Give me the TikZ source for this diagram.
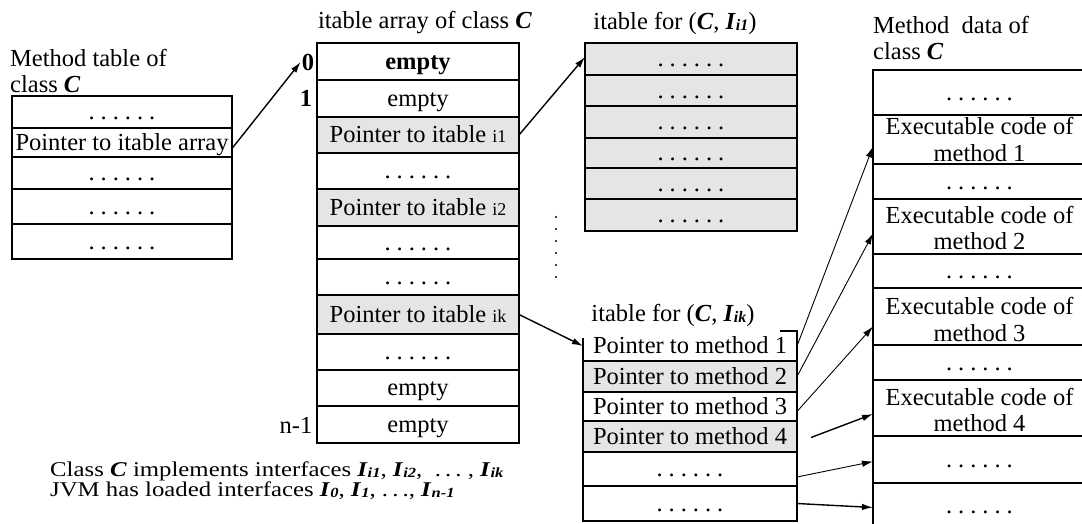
\documentclass[tikz,border=0pt]{standalone}
\usepackage{fontspec}
\usepackage{graphicx}
\setmainfont{Liberation Serif}
\usetikzlibrary{arrows.meta}
\definecolor{cellgray}{gray}{0.90}
\newcommand\bigfont{\fontsize{24.5}{26}\selectfont}
\newcommand\notefont{\fontsize{21}{19}\selectfont}
\newcommand\sfx[1]{{\fontsize{18}{18}\selectfont #1}}
\newcommand\Iface[2][16]{{\bfseries\itshape I\kern0.03em\raisebox{-0.12ex}{\fontsize{#1}{#1}\selectfont #2}}}
\newcommand\Cls{\textbf{\textit{C}}}
\newcommand\rowdots{.\hspace{6pt}.\hspace{6pt}.\hspace{6pt}.\hspace{6pt}.\hspace{6pt}.}
% one table row: [style]{name}{x1}{y1}{x2}{y2}{text}
\newcommand\tabrow[7][]{\node[cell,#1,minimum width={#5-#3},minimum height={#6-#4}] (#2) at ({(#3+#5)/2},{(#4+#6)/2}) {#7};}
\tikzset{
  cell/.style={draw, line width=1.1pt, fill=white, inner sep=0pt, outer sep=0pt,
    font=\bigfont, text height=17pt, text depth=2pt},
  graycell/.style={fill=cellgray},
  title/.style={font=\bigfont, inner sep=0pt},
  conn/.style={-{Latex[length=11pt,width=6.5pt]}, line width=1.4pt},
  thinconn/.style={-{Latex[length=11pt,width=6.5pt]}, line width=0.9pt},
}
\begin{document}
\begin{tikzpicture}[x=1pt,y=-1pt]
\useasboundingbox (0,0) rectangle (1082,523);

% ---- method table of class C
\node[title, anchor=west, align=left] (mtTitle) at (10,71) {Method table of\\class \Cls};
\tabrow{l1}{12}{96}{232}{128}{\rowdots}
\tabrow{lp}{12}{128}{232}{157}{Pointer to itable array}
\tabrow{l3}{12}{157}{232}{189}{\rowdots}
\tabrow{l4}{12}{189}{232}{224}{\rowdots}
\tabrow{l5}{12}{224}{232}{259}{\rowdots}

% ---- itable array of class C
\node[title] (arrTitle) at (425,23) {itable array of class \Cls};
\tabrow[font=\bigfont\bfseries]{a0}{317}{43}{519}{80}{empty}
\tabrow{a1}{317}{80}{519}{117}{empty}
\tabrow[graycell]{a2}{317}{117}{519}{153}{Pointer to itable \sfx{i1}}
\tabrow{a3}{317}{153}{519}{189}{\rowdots}
\tabrow[graycell]{a4}{317}{189}{519}{226}{Pointer to itable \sfx{i2}}
\tabrow{a5}{317}{226}{519}{259}{\rowdots}
\tabrow{a6}{317}{259}{519}{295}{\rowdots}
\tabrow[graycell]{a7}{317}{295}{519}{334}{Pointer to itable \sfx{ik}}
\tabrow{a8}{317}{334}{519}{370}{\rowdots}
\tabrow{a9}{317}{370}{519}{406}{empty}
\tabrow{a10}{317}{406}{519}{443}{empty}
\node[title, font=\bigfont\bfseries] (zero) at (308,62) {0};
\node[title, font=\bigfont\bfseries] (one) at (306,98) {1};
\node[title] (last) at (296,425) {n-1};

% ---- itable for (C, I_i1)
\node[title] (t1Title) at (675,23) {itable for (\Cls, \Iface{i1})};
\tabrow[graycell]{t1}{585}{43}{797}{75}{\rowdots}
\tabrow[graycell, line width=1.5pt]{t2}{585}{75}{797}{106}{\rowdots}
\tabrow[graycell]{t3}{585}{106}{797}{138}{\rowdots}
\tabrow[graycell]{t4}{585}{138}{797}{168}{\rowdots}
\tabrow[graycell]{t5}{585}{168}{797}{199}{\rowdots}
\tabrow[graycell]{t6}{585}{199}{797}{231}{\rowdots}

% vertical ellipsis between the itables
\foreach \yy in {217,229,241,253,265,277} \fill (556,\yy) circle (1.1pt);

% ---- itable for (C, I_ik)
\node[title] (tkTitle) at (673,315) {itable for (\Cls, \Iface{ik})};
\tabrow[draw=none]{k1}{583}{331}{797}{361}{Pointer to method 1}
\draw[line width=1.1pt] ([xshift=-17pt]k1.north east) -- (k1.north east) -- (k1.south east)
  -- (k1.south west) -- ([yshift=-7pt]k1.north west);
\tabrow[graycell]{k2}{583}{361}{797}{392}{Pointer to method 2}
\tabrow{k3}{583}{392}{797}{421}{Pointer to method 3}
\tabrow[graycell, line width=1.5pt]{k4}{583}{421}{797}{452}{Pointer to method 4}
\tabrow{k5}{583}{452}{797}{486}{\rowdots}
\tabrow{k6}{583}{486}{797}{521}{\rowdots}

% ---- method data of class C
\node[title, anchor=west, align=left, font=\fontsize{24.5}{26}\selectfont] (mdTitle) at (873,38) {Method\ \ data of\\class \Cls};
\tabrow{m0}{873}{70}{1086}{115}{\rowdots}
\tabrow{m1}{873}{115}{1086}{164}{}
\tabrow{m1d}{873}{164}{1086}{199}{\rowdots}
\tabrow{m2}{873}{199}{1086}{254}{}
\tabrow{m2d}{873}{254}{1086}{288}{\rowdots}
\tabrow{m3}{873}{288}{1086}{345}{}
\tabrow{m3d}{873}{345}{1086}{380}{\rowdots}
\tabrow{m4}{873}{380}{1086}{436}{}
\tabrow{m5}{873}{436}{1086}{483}{\rowdots}
\tabrow{m6}{873}{483}{1086}{528}{\rowdots}
\node[title, align=center, font=\fontsize{24.5}{27}\selectfont] (m1t) at ([yshift=0pt]m1.center) {Executable code of\\method 1};
\node[title, align=center, font=\fontsize{24.5}{26}\selectfont] (m2t) at ([yshift=-1pt]m2.center) {Executable code of\\method 2};
\node[title, align=center, font=\fontsize{24.5}{27}\selectfont] (m3t) at ([yshift=-3pt]m3.center) {Executable code of\\method 3};
\node[title, align=center, font=\fontsize{24.5}{26}\selectfont] (m4t) at ([yshift=-2pt]m4.center) {Executable code of\\method 4};

% ---- pointers
\draw[conn] ([yshift=-6pt]lp.east) -- ([xshift=-1pt]zero.west);
\draw[conn] (a2.east) -- ([yshift=-14pt]t1.north west);
\draw[conn] (a7.east) -- (k1.west);
\draw[thinconn] (k1.east) -- ([yshift=-7pt]m1.west);
\draw[thinconn] (k2.east) -- ([yshift=-7pt]m2.west);
\draw[thinconn] ([yshift=-5pt]k3.east) -- ([yshift=-10pt]m3.west);
\draw[conn] ([xshift=14pt,yshift=-1pt]k4.east) -- ([yshift=-6pt]m4.west);
\draw[thinconn] ([yshift=-8pt]k5.east) -- ([yshift=-2pt]m5.west);
\draw[conn] (k6.east) -- ([yshift=-2pt]m6.west);

% ---- notes
\node[title, anchor=west, font=\notefont] (note) at (50,482)
  {\scalebox{1.18}[1]{\begin{tabular}{@{}l@{}}
   Class \Cls\ implements interfaces \Iface[14]{i1}, \Iface[14]{i2},\ \ .\,.\,.\ , \Iface[14]{ik}\\
   JVM has loaded interfaces \Iface[14]{0}, \Iface[14]{1}, .\,.\,., \Iface[14]{n-1}
   \end{tabular}}};
\end{tikzpicture}
\end{document}
